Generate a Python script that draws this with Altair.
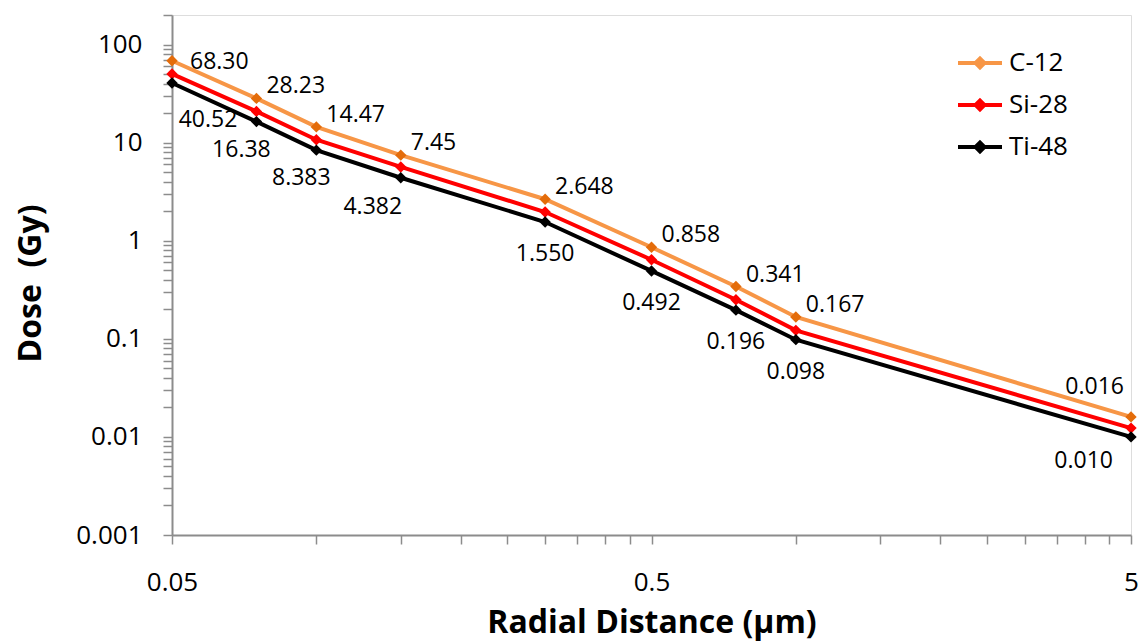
import altair as alt
import pandas as pd

radial = [0.05, 0.075, 0.1, 0.15, 0.3, 0.5, 0.75, 1.0, 5.0]
c12 = [68.30, 28.23, 14.47, 7.45, 2.648, 0.858, 0.341, 0.167, 0.016]
si28 = [50.2, 20.8, 10.7, 5.65, 1.96, 0.640, 0.250, 0.122, 0.0123]
ti48 = [40.52, 16.38, 8.383, 4.382, 1.550, 0.492, 0.196, 0.098, 0.010]
c12_labels = ["68.30", "28.23", "14.47", "7.45", "2.648", "0.858", "0.341", "0.167", "0.016"]
ti48_labels = ["40.52", "16.38", "8.383", "4.382", "1.550", "0.492", "0.196", "0.098", "0.010"]
series_names = ["C-12", "Si-28", "Ti-48"]
line_colors = ["#F79646", "#FF0000", "#000000"]
marker_colors = ["#E46C0A", "#FF0000", "#000000"]

x_ticks = [0.05, 0.1, 0.15, 0.2, 0.25, 0.3, 0.35, 0.4, 0.45, 0.5,
           1, 1.5, 2, 2.5, 3, 3.5, 4, 4.5, 5]
y_ticks = [0.001, 0.002, 0.003, 0.004, 0.005, 0.006, 0.007, 0.008, 0.009,
           0.01, 0.02, 0.03, 0.04, 0.05, 0.06, 0.07, 0.08, 0.09,
           0.1, 0.2, 0.3, 0.4, 0.5, 0.6, 0.7, 0.8, 0.9,
           1, 2, 3, 4, 5, 6, 7, 8, 9,
           10, 20, 30, 40, 50, 60, 70, 80, 90,
           100, 200]

rows = []
for name, vals, labs in [("C-12", c12, c12_labels), ("Si-28", si28, [""] * len(si28)),
                         ("Ti-48", ti48, ti48_labels)]:
    for xv, yv, lb in zip(radial, vals, labs):
        rows.append({"r": xv, "dose": yv, "series": name, "label": lb})
df = pd.DataFrame(rows)

FONT = "Open Sans"

xenc = alt.X("r:Q", scale=alt.Scale(type="log", domain=[0.05, 5], nice=False),
             axis=alt.Axis(values=x_ticks, format="~g",
                           labelExpr="indexof([0.05, 0.5, 5], datum.value) >= 0 ? datum.label : ''",
                           labelOverlap=False, labelFlush=False, grid=False,
                           tickSize=9, tickColor="#8c8c8c", tickWidth=1.5,
                           domainColor="#8c8c8c", domainWidth=2,
                           labelFont=FONT, labelFontSize=26, labelColor="#000000",
                           labelBaseline="middle", labelPadding=38,
                           title="Radial Distance (µm)", titleFont=FONT, titleFontSize=32,
                           titleFontWeight="bold", titleColor="#000000",
                           titleBaseline="middle", titleY=87))
yenc = alt.Y("dose:Q", scale=alt.Scale(type="log", domain=[0.001, 200], nice=False),
             axis=alt.Axis(values=y_ticks, format="~g",
                           labelExpr="indexof([0.001, 0.01, 0.1, 1, 10, 100], datum.value) >= 0 ? datum.label : ''",
                           labelOverlap=False, labelFlush=False, grid=False,
                           tickSize=9, tickColor="#8c8c8c", tickWidth=1.5,
                           domainColor="#8c8c8c", domainWidth=2,
                           labelFont=FONT, labelFontSize=26, labelColor="#000000",
                           labelAlign="right", labelBaseline="middle", labelPadding=21,
                           title="Dose\u00a0\u00a0(Gy)", titleFont=FONT, titleFontSize=32,
                           titleFontWeight="bold", titleColor="#000000",
                           titleBaseline="middle", titleX=-142, titleY=268, titleAngle=-90))

color = alt.Color("series:N", sort=series_names,
                  scale=alt.Scale(domain=series_names, range=line_colors),
                  legend=alt.Legend(title=None, orient="none", legendX=784, legendY=24,
                                    symbolType="M-1,0H1M-0.2,0L0,-0.2L0.2,0L0,0.2Z",
                                    symbolSize=1936, symbolStrokeWidth=4,
                                    labelFont=FONT, labelFontSize=26, labelColor="#000000",
                                    labelOffset=5, rowPadding=5, padding=0))

base = alt.Chart(df)
lines = base.mark_line(strokeWidth=4).encode(x=xenc, y=yenc, color=color)
points = base.mark_point(shape="diamond", filled=True, size=130, opacity=1, strokeWidth=0).encode(
    x="r:Q", y="dose:Q",
    fill=alt.Fill("series:N", sort=series_names,
                  scale=alt.Scale(domain=series_names, range=marker_colors), legend=None))

tstyle = dict(font=FONT, fontSize=23, color="#000000", baseline="middle")


def label_layer(expr, **kw):
    return base.transform_filter(expr).mark_text(**tstyle, **kw).encode(
        x="r:Q", y="dose:Q", text="label:N")


c_first = label_layer("datum.series == 'C-12' && datum.r == 0.05", align="left", dx=18, dy=1)
c_mid = label_layer("datum.series == 'C-12' && datum.r > 0.05 && datum.r < 5",
                    align="left", dx=10, dy=-12)
c_last = label_layer("datum.series == 'C-12' && datum.r == 5", align="right", dx=-7, dy=-30)
t_first = label_layer("datum.series == 'Ti-48' && datum.r == 0.05", align="center", dx=36, dy=37)
t_near = label_layer("datum.series == 'Ti-48' && (datum.r == 0.075 || datum.r == 0.1)",
                     align="center", dx=-15, dy=28)
t_shift = label_layer("datum.series == 'Ti-48' && datum.r == 0.15", align="center", dx=-28, dy=29)
t_mid = label_layer("datum.series == 'Ti-48' && datum.r >= 0.3 && datum.r < 5",
                    align="center", dy=32)
t_last = label_layer("datum.series == 'Ti-48' && datum.r == 5", align="right", dx=-18, dy=24)

chart = alt.layer(lines, points, c_first, c_mid, c_last,
                  t_first, t_near, t_shift, t_mid, t_last).properties(
    width=959, height=520,
    autosize=alt.AutoSizeParams(type="none"),
    padding={"left": 172, "top": 15, "right": 9, "bottom": 106},
).configure_view(stroke="#000000", strokeWidth=1.5).configure(background="#ffffff")

chart.save("out.html", embed_options={"renderer": "svg", "actions": False})
